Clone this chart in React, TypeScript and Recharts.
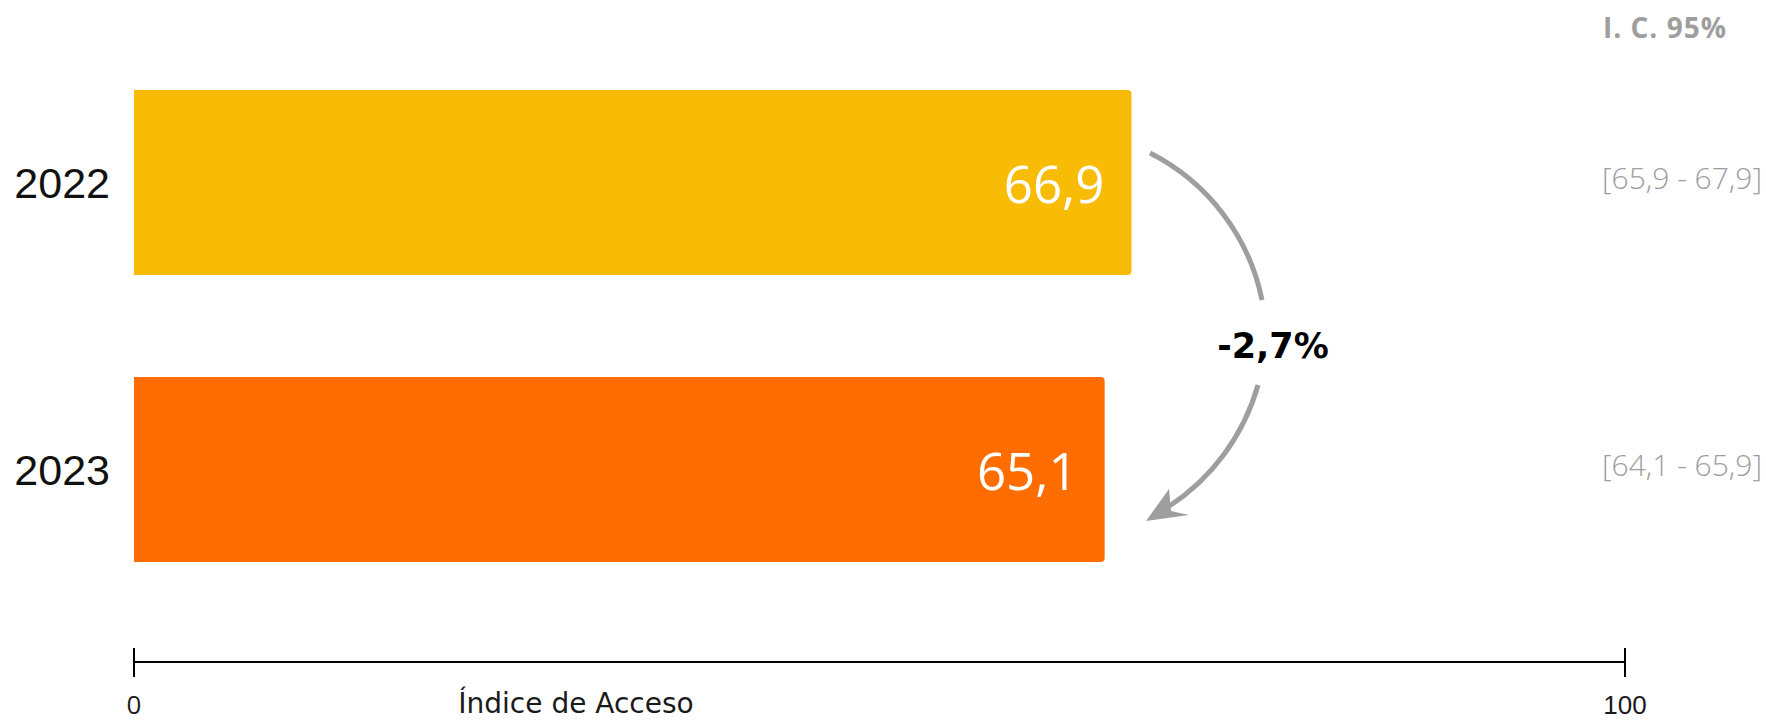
import { Bar, BarChart, Cell, Customized, Label, LabelList, XAxis, YAxis } from "recharts";

const years = ["2022", "2023"];
const values = [66.9, 65.1];
const ciLabels = ["[65,9 - 67,9]", "[64,1 - 65,9]"];
const barColors = ["#F9BC06", "#FF6D00"];
const axisTicks = [0, 100];
const changeLabel = "-2,7%";
const ciTitle = "I. C. 95%";
const axisTitle = "Índice de Acceso";

const WIDTH = 1766;
const HEIGHT = 720;
const GREY = "#9E9E9E";

const data = years.map((year, i) => ({ year, value: values[i], ci: ciLabels[i] }));

const fmt = (v: number) => v.toFixed(1).replace(".", ",");

const YearTick = ({ x, y, payload }: any) => (
  <text
    x={x}
    y={y}
    dy={15}
    textAnchor="end"
    fill="#111"
    fontFamily="Liberation Sans, Arial, sans-serif"
    fontSize={43}
  >
    {payload.value}
  </text>
);

const AxisTick = ({ x, y, payload }: any) => (
  <g>
    <line x1={x} x2={x} y1={y - 14} y2={y + 15} stroke="#000" strokeWidth={2} />
    <text
      x={x}
      y={y + 52}
      textAnchor="middle"
      fill="#1a1a1a"
      fontFamily={payload.value === 0 ? "Open Sans, sans-serif" : "Liberation Sans, Arial, sans-serif"}
      fontSize={26}
    >
      {payload.value}
    </text>
  </g>
);

const ValueLabel = ({ x, y, width, height, value }: any) => (
  <text
    x={x + width - 27}
    y={y + height / 2 + 20}
    textAnchor="end"
    fill="#fff"
    fontFamily="Open Sans, sans-serif"
    fontWeight={400}
    fontSize={51}
  >
    {fmt(value)}
  </text>
);

const CiLabel = ({ y, height, value }: any) => (
  <text
    x={WIDTH - 4}
    y={y + height / 2 + 6}
    textAnchor="end"
    fill={GREY}
    fontFamily="Open Sans, sans-serif"
    fontWeight={300}
    fontSize={30}
  >
    {value}
  </text>
);

const Annotations = () => (
  <g>
    <text
      x={1603}
      y={38}
      textAnchor="start"
      fill={GREY}
      fontFamily="Open Sans, sans-serif"
      fontWeight={700}
      fontSize={28}
      letterSpacing={1}
    >
      {ciTitle}
    </text>
    <path d="M1150 153 A212 212 0 0 1 1262 300" fill="none" stroke={GREY} strokeWidth={5} />
    <path d="M1258 385 A215 215 0 0 1 1168 507" fill="none" stroke={GREY} strokeWidth={5} />
    <polygon points="1146,521 1169,489 1171,511 1189,515" fill={GREY} />
    <text
      x={1273}
      y={358}
      textAnchor="middle"
      fill="#000"
      fontFamily="DejaVu Sans, sans-serif"
      fontWeight={700}
      fontSize={35}
    >
      {changeLabel}
    </text>
  </g>
);

export default function App() {
  return (
    <div style={{ position: "absolute", left: 0, top: 0, width: WIDTH, height: HEIGHT, background: "#fff" }}>
      <BarChart
        width={WIDTH}
        height={HEIGHT}
        data={data}
        layout="vertical"
        margin={{ top: 39, right: 141, bottom: 0, left: 0 }}
      >
        <XAxis
          type="number"
          domain={[0, 100]}
          ticks={axisTicks}
          interval={0}
          height={58}
          axisLine={{ stroke: "#000", strokeWidth: 2 }}
          tickLine={false}
          tickSize={0}
          tickMargin={0}
          tick={<AxisTick />}
        >
          <Label
            content={({ viewBox }: any) => (
              <text
                x={viewBox.x + 442}
                y={viewBox.y + 51}
                textAnchor="middle"
                fill="#1a1a1a"
                fontFamily="DejaVu Sans, sans-serif"
                fontSize={28}
              >
                {axisTitle}
              </text>
            )}
          />
        </XAxis>
        <YAxis
          type="category"
          dataKey="year"
          width={134}
          axisLine={false}
          tickLine={false}
          tickSize={0}
          tickMargin={24}
          padding={{ top: 0, bottom: 49 }}
          tick={<YearTick />}
        />
        <Bar dataKey="value" barSize={185} radius={[0, 4, 4, 0]} isAnimationActive={false}>
          {data.map((d, i) => (
            <Cell key={d.year} fill={barColors[i]} />
          ))}
          <LabelList dataKey="value" content={<ValueLabel />} />
          <LabelList dataKey="ci" content={<CiLabel />} />
        </Bar>
        <Customized component={<Annotations />} />
      </BarChart>
    </div>
  );
}
